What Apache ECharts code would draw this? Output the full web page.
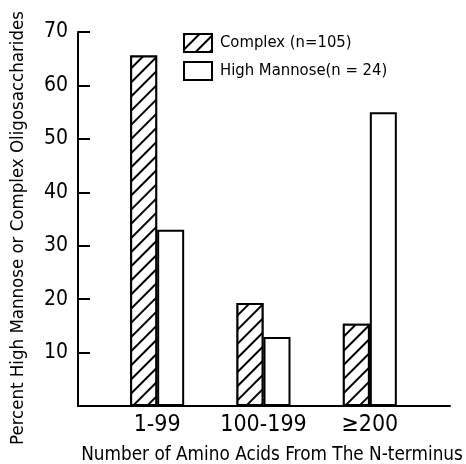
<!DOCTYPE html>
<html>
<head>
<meta charset="utf-8">
<script src="https://cdn.jsdelivr.net/npm/echarts@6/dist/echarts.min.js"></script>
<style>html,body{margin:0;padding:0;background:#fff;}#c{width:466px;height:464px;}</style>
</head>
<body>
<div id="c"></div>
<script>
const categories = ['1-99', '100-199', '≥200'];
const complexValues = [65.6, 19.3, 15.4];
const highMannoseValues = [33.0, 12.9, 55.0];
const yTicks = [0, 10, 20, 30, 40, 50, 60, 70];
const seriesNames = ['Complex (n=105)', 'High Mannose(n = 24)'];
const yTitle = 'Percent High Mannose or Complex Oligosaccharides';
const xTitle = 'Number of Amino Acids From The N-terminus';

const FONT = "'Liberation Sans Narrow', 'DejaVu Sans Condensed', 'Liberation Sans', sans-serif";
const chart = echarts.init(document.getElementById('c'), null, {renderer: 'canvas'});
const hatch = {
  symbol: 'rect', symbolSize: 1, color: '#000', backgroundColor: '#fff',
  dashArrayX: [1, 0], dashArrayY: [2, 8], rotation: -Math.PI / 4
};
chart.setOption({
  animation: false,
  backgroundColor: '#fff',
  grid: [
    {left: 78, right: 16, top: 32, bottom: 58, outerBoundsMode: 'none', containLabel: false},
    {left: 104, right: 43, top: 32, bottom: 58, outerBoundsMode: 'none', containLabel: false}
  ],
  legend: {
    orient: 'vertical', left: 183, top: 33, padding: 0, itemWidth: 28, itemHeight: 18, itemGap: 8,
    icon: 'rect',
    textStyle: {fontFamily: FONT, fontSize: 16.5, color: '#000', padding: [0, 0, 0, 3]},
    data: seriesNames
  },
  xAxis: [
    {gridIndex: 0, type: 'value', min: 0, max: 1, axisLine: {show: true, lineStyle: {color: '#000', width: 2}},
     axisTick: {show: false}, axisLabel: {show: false}, splitLine: {show: false},
     name: xTitle, nameLocation: 'middle', nameGap: 40,
     nameTextStyle: {fontFamily: FONT, fontSize: 18.8, color: '#000', padding: [0, 0, 0, 16]}},
    {gridIndex: 1, type: 'category', data: categories, axisLine: {show: false}, axisTick: {show: false},
     axisLabel: {fontFamily: FONT, fontSize: 23, color: '#000', margin: 8, interval: 0}}
  ],
  yAxis: [
    {gridIndex: 0, type: 'value', min: yTicks[0], max: yTicks[yTicks.length - 1], interval: 10,
     axisLine: {show: true, lineStyle: {color: '#000', width: 2}},
     axisTick: {show: true, inside: true, length: 12, lineStyle: {color: '#000', width: 2}},
     axisLabel: {fontFamily: FONT, fontSize: 21, color: '#000', margin: 10,
       formatter: v => v === 0 ? '' : String(v)},
     splitLine: {show: false},
     name: yTitle, nameLocation: 'middle', nameGap: 50, nameRotate: 90,
     nameTextStyle: {fontFamily: FONT, fontSize: 18.5, color: '#000', padding: [0, 18, 0, 0]}},
    {gridIndex: 1, type: 'value', min: 0, max: 70, show: false}
  ],
  series: [
    {name: seriesNames[0], type: 'bar', xAxisIndex: 1, yAxisIndex: 1, data: complexValues,
     barWidth: 27, barGap: '0%',
     itemStyle: {color: '#fff', borderColor: '#000', borderWidth: 2, decal: hatch}},
    {name: seriesNames[1], type: 'bar', xAxisIndex: 1, yAxisIndex: 1, data: highMannoseValues,
     barWidth: 27, barGap: '0%',
     itemStyle: {color: '#fff', borderColor: '#000', borderWidth: 2}}
  ]
});
</script>
</body>
</html>
